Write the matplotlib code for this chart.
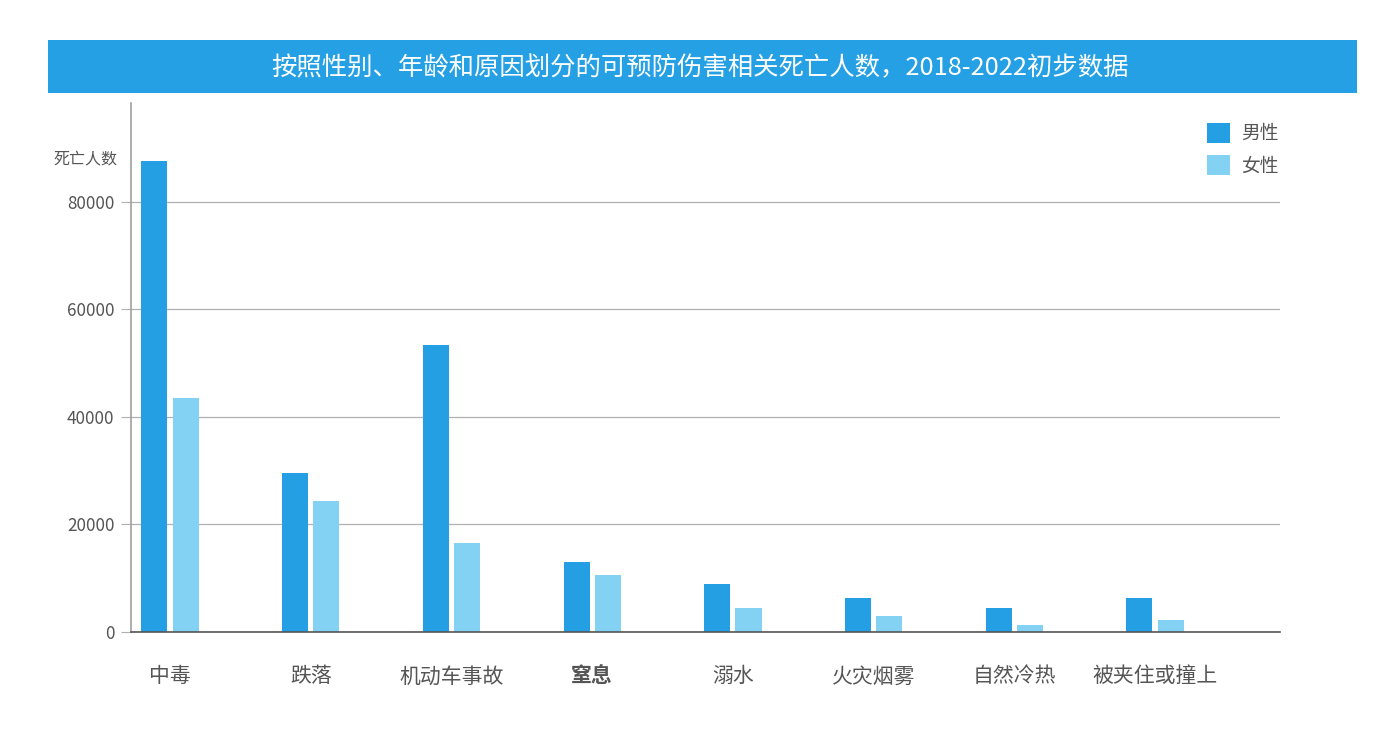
import matplotlib
matplotlib.use("Agg")
import matplotlib.pyplot as plt
from matplotlib.patches import Rectangle
import numpy as np

plt.rcParams['font.family'] = ['Noto Sans CJK SC', 'DejaVu Sans']

categories = ["中毒", "跌落", "机动车事故", "窒息", "溺水", "火灾烟雾", "自然冷热", "被夹住或撞上"]
male = [87600, 29600, 53400, 13000, 8900, 6300, 4500, 6300]
female = [43600, 24400, 16600, 10600, 4500, 3000, 1300, 2200]
yticks = [0, 20000, 40000, 60000, 80000]
title = "按照性别、年龄和原因划分的可预防伤害相关死亡人数，2018-2022初步数据"

c_male = "#259FE3"
c_female = "#84D2F3"
txt = "#555555"

fig = plt.figure(figsize=(14, 7.3), dpi=100)
ax = fig.add_axes([131/1400, 1-632/730, (1280-131)/1400, (632-103)/730])

x = np.arange(len(categories))
w = 0.185
off = 0.111
ax.bar(x - off, male, width=w, color=c_male, label="男性", zorder=3)
ax.bar(x + off, female, width=w, color=c_female, label="女性", zorder=3)

ax.set_xlim(-0.277, 7.888)
ax.set_ylim(0, 98400)
ax.set_yticks(yticks)
ax.set_yticklabels([str(v) for v in yticks], fontsize=12.3, color=txt)
ax.yaxis.grid(True, color="#b0b0b0", linewidth=0.9, zorder=0)
ax.tick_params(axis='y', length=7, color="#b0b0b0", pad=5)
ax.set_xticks(x)
ax.set_xticklabels(categories, fontsize=15, color=txt)
ax.tick_params(axis='x', length=0, pad=24)
for lbl in ax.get_xticklabels():
    if lbl.get_text() == "窒息":
        lbl.set_fontweight("bold")

for s in ["top", "right"]:
    ax.spines[s].set_visible(False)
ax.spines["left"].set_color("#a0a0a0")
ax.spines["left"].set_linewidth(1.2)
ax.spines["bottom"].set_color("#555555")
ax.spines["bottom"].set_linewidth(1.2)
ax.spines["bottom"].set_zorder(4)

fig.text(53/1400, 1-160/730, "死亡人数", fontsize=11.5, color=txt, ha="left", va="center")

leg = ax.legend(loc="upper right", bbox_to_anchor=(1296/1400, 1-106/730),
                bbox_transform=fig.transFigure, frameon=False, fontsize=13.5,
                handlelength=1.25, handleheight=1.25, labelspacing=0.6, handletextpad=0.6)
for t in leg.get_texts():
    t.set_color(txt)

fig.patches.append(Rectangle((48/1400, 1-93/730), (1357-48)/1400, 53/730,
                             transform=fig.transFigure, facecolor="#25A0E4",
                             edgecolor="none", zorder=0))
fig.text(700/1400, 1-68/730, title, fontsize=18.3, color="white",
         ha="center", va="center", fontweight="medium")

fig.savefig("out.png", dpi=100)
